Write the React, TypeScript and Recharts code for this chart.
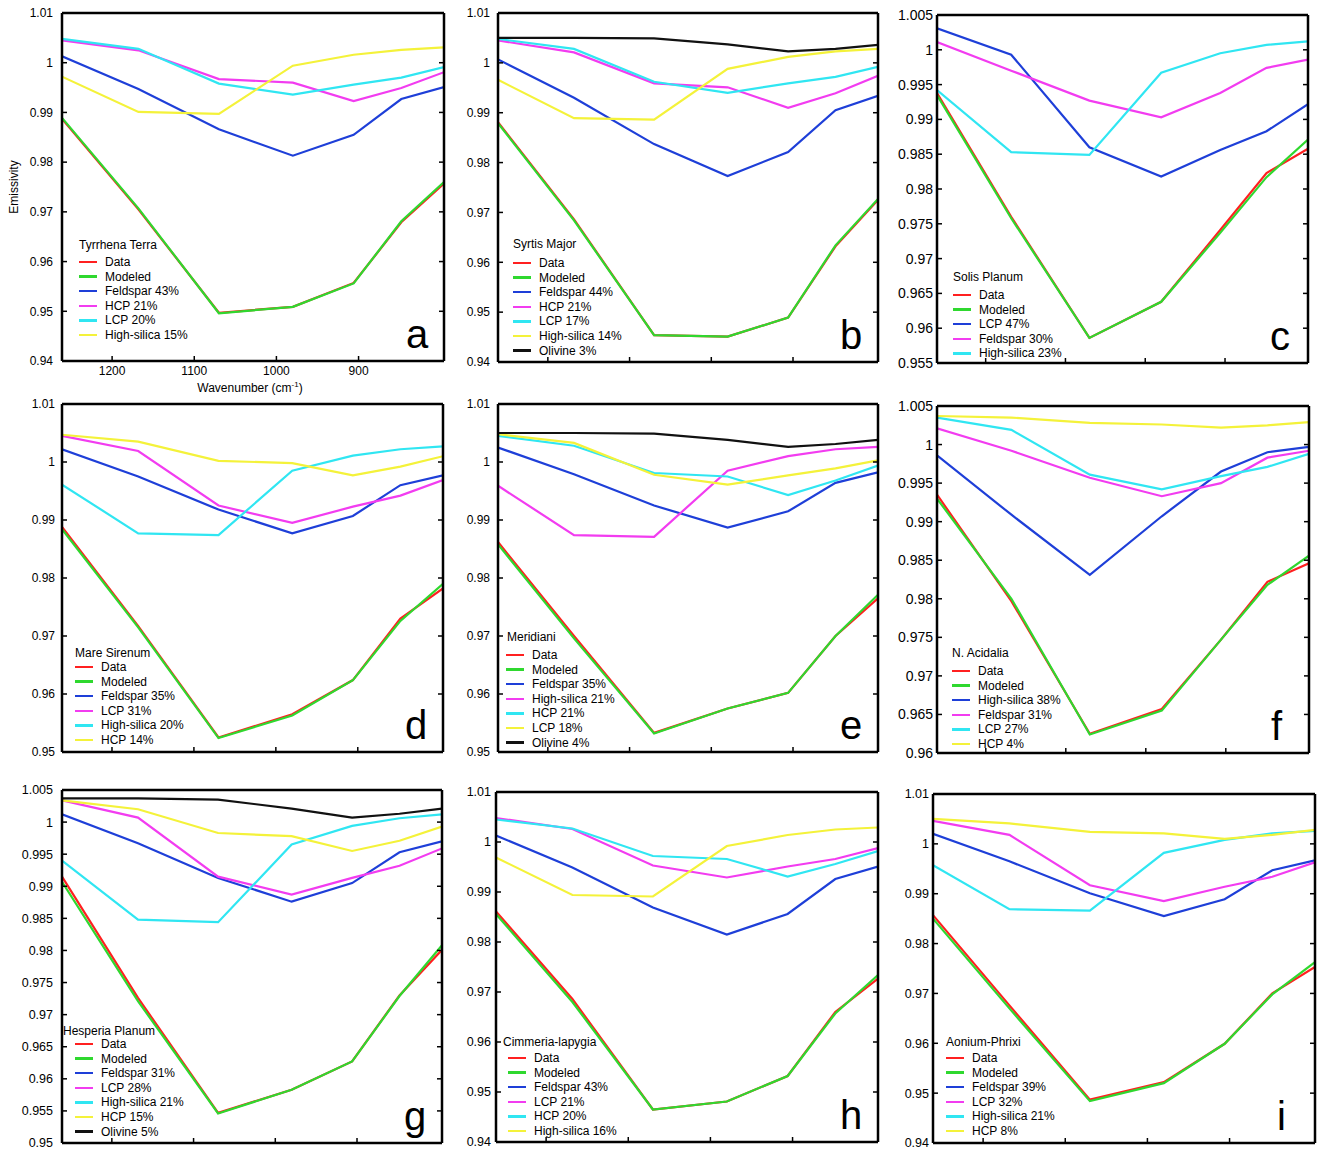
import { LineChart, Line, XAxis, YAxis } from "recharts";

// THEMIS band centres (cm-1), same for every panel
const wavenumbers = [1261, 1168, 1070, 980, 906, 848, 796];
const xTicks = [1200, 1100, 1000, 900];

const ticks94 = [0.94, 0.95, 0.96, 0.97, 0.98, 0.99, 1, 1.01];
const ticks95 = [0.95, 0.96, 0.97, 0.98, 0.99, 1, 1.01];
const ticksC = [0.955, 0.96, 0.965, 0.97, 0.975, 0.98, 0.985, 0.99, 0.995, 1, 1.005];
const ticksF = [0.96, 0.965, 0.97, 0.975, 0.98, 0.985, 0.99, 0.995, 1, 1.005];
const ticksG = [0.95, 0.955, 0.96, 0.965, 0.97, 0.975, 0.98, 0.985, 0.99, 0.995, 1, 1.005];

const colors = ["#ff2020", "#2fd82f", "#1e3fd8", "#f23cf0", "#30e6f2", "#f4f23a", "#111111"];

// a - Tyrrhena Terra
const ttData = [0.9887, 0.9705, 0.9497, 0.9509, 0.9557, 0.9679, 0.9757];
const ttModeled = [0.9889, 0.9707, 0.9496, 0.9509, 0.9556, 0.9681, 0.976];
const ttFeldspar = [1.0013, 0.9947, 0.9866, 0.9813, 0.9855, 0.9927, 0.9951];
const ttHcp = [1.0045, 1.0025, 0.9967, 0.996, 0.9923, 0.9949, 0.9981];
const ttLcp = [1.0048, 1.0028, 0.9958, 0.9936, 0.9956, 0.997, 0.9991];
const ttSilica = [0.9972, 0.9901, 0.9897, 0.9994, 1.0016, 1.0026, 1.0031];

// b - Syrtis Major
const smData = [0.9881, 0.9686, 0.9454, 0.9451, 0.9489, 0.9632, 0.9725];
const smModeled = [0.9879, 0.9684, 0.9454, 0.9451, 0.9489, 0.9634, 0.9727];
const smFeldspar = [1.0007, 0.993, 0.9837, 0.9773, 0.9821, 0.9905, 0.9934];
const smHcp = [1.0045, 1.0021, 0.9959, 0.9951, 0.991, 0.9939, 0.9974];
const smLcp = [1.0048, 1.0028, 0.9962, 0.994, 0.9959, 0.9972, 0.9992];
const smSilica = [0.9966, 0.9889, 0.9886, 0.9988, 1.0012, 1.0023, 1.0028];
const smOlivine = [1.005, 1.005, 1.0049, 1.0037, 1.0023, 1.0028, 1.0036];

// c - Solis Planum
const spData = [0.9938, 0.976, 0.9586, 0.9638, 0.9741, 0.9823, 0.9858];
const spModeled = [0.9935, 0.9758, 0.9586, 0.9638, 0.9737, 0.9817, 0.9871];
const spLcp = [1.0031, 0.9993, 0.986, 0.9818, 0.9856, 0.9883, 0.9922];
const spFeldspar = [1.0011, 0.997, 0.9927, 0.9903, 0.9938, 0.9974, 0.9986];
const spSilica = [0.9942, 0.9853, 0.9849, 0.9967, 0.9995, 1.0007, 1.0012];

// d - Mare Sirenum
const msData = [0.9888, 0.9717, 0.9525, 0.9565, 0.9624, 0.973, 0.9782];
const msModeled = [0.9884, 0.9715, 0.9524, 0.9563, 0.9624, 0.9726, 0.979];
const msFeldspar = [1.0022, 0.9975, 0.9918, 0.9877, 0.9907, 0.996, 0.9977];
const msLcp = [1.0045, 1.0019, 0.9925, 0.9895, 0.9923, 0.9942, 0.9969];
const msSilica = [0.9961, 0.9877, 0.9874, 0.9985, 1.0011, 1.0022, 1.0027];
const msHcp = [1.0047, 1.0035, 1.0002, 0.9998, 0.9977, 0.9992, 1.001];

// e - Meridiani
const meData = [0.9862, 0.97, 0.9533, 0.9575, 0.9602, 0.97, 0.9765];
const meModeled = [0.9858, 0.9696, 0.9532, 0.9575, 0.9602, 0.97, 0.9771];
const meFeldspar = [1.0025, 0.9979, 0.9925, 0.9887, 0.9915, 0.9964, 0.9982];
const meSilica = [0.9959, 0.9874, 0.9871, 0.9985, 1.001, 1.0022, 1.0026];
const meHcp = [1.0045, 1.0028, 0.9981, 0.9975, 0.9943, 0.9968, 0.9994];
const meLcp = [1.0048, 1.0033, 0.9978, 0.9961, 0.9977, 0.9989, 1.0003];
const meOlivine = [1.005, 1.005, 1.0049, 1.0038, 1.0026, 1.0031, 1.0038];

// f - N. Acidalia
const naData = [0.9935, 0.9797, 0.9625, 0.9657, 0.9747, 0.9822, 0.9846];
const naModeled = [0.993, 0.98, 0.9624, 0.9655, 0.9747, 0.9818, 0.9856];
const naSilica = [0.9986, 0.9909, 0.9831, 0.9907, 0.9965, 0.999, 0.9997];
const naFeldspar = [1.0021, 0.9992, 0.9957, 0.9933, 0.995, 0.9983, 0.9992];
const naLcp = [1.0035, 1.0019, 0.9961, 0.9942, 0.9959, 0.9971, 0.9988];
const naHcp = [1.0037, 1.0035, 1.0028, 1.0026, 1.0022, 1.0025, 1.0029];

// g - Hesperia Planum
const hpData = [0.9915, 0.9726, 0.9547, 0.9583, 0.9627, 0.973, 0.9801];
const hpModeled = [0.9907, 0.9721, 0.9546, 0.9583, 0.9627, 0.9729, 0.9808];
const hpFeldspar = [1.0012, 0.9967, 0.9913, 0.9876, 0.9905, 0.9953, 0.997];
const hpLcp = [1.0034, 1.0007, 0.9915, 0.9887, 0.9913, 0.9932, 0.9959];
const hpSilica = [0.994, 0.9848, 0.9844, 0.9965, 0.9994, 1.0006, 1.0012];
const hpHcp = [1.0034, 1.002, 0.9983, 0.9978, 0.9955, 0.9971, 0.9993];
const hpOlivine = [1.0037, 1.0037, 1.0035, 1.0021, 1.0007, 1.0013, 1.0021];

// h - Cimmeria-lapygia
const ciData = [0.9861, 0.9686, 0.9465, 0.9481, 0.9532, 0.966, 0.9727];
const ciModeled = [0.9856, 0.968, 0.9465, 0.9481, 0.9532, 0.9657, 0.9734];
const ciFeldspar = [1.0013, 0.9949, 0.9869, 0.9815, 0.9856, 0.9926, 0.9951];
const ciLcp = [1.0048, 1.0026, 0.9953, 0.9929, 0.9951, 0.9966, 0.9988];
const ciHcp = [1.0045, 1.0027, 0.9972, 0.9966, 0.9931, 0.9956, 0.9982];
const ciSilica = [0.9969, 0.9894, 0.9891, 0.9992, 1.0014, 1.0025, 1.0029];

// i - Aonium-Phrixi
const apData = [0.9857, 0.9676, 0.9487, 0.9522, 0.9599, 0.97, 0.9753];
const apModeled = [0.985, 0.967, 0.9484, 0.952, 0.9599, 0.9698, 0.9763];
const apFeldspar = [1.002, 0.9965, 0.9901, 0.9855, 0.9889, 0.9947, 0.9967];
const apLcp = [1.0046, 1.0018, 0.9917, 0.9885, 0.9914, 0.9934, 0.9963];
const apSilica = [0.9957, 0.9869, 0.9866, 0.9982, 1.0008, 1.0021, 1.0026];
const apHcp = [1.005, 1.0041, 1.0024, 1.0021, 1.001, 1.0018, 1.0028];

type Series = [string, number[]];
type PanelDef = {
  letter: string;
  title: string;
  series: Series[];
  domain: [number, number];
  ticks: number[];
  box: { l: number; t: number; w: number; h: number };
  leg: { tx: number; ty: number; sx: number; y0: number };
  tickFont: number;
  tickGap: number;
  showX?: boolean;
};

const panels: PanelDef[] = [
  {
    letter: "a", title: "Tyrrhena Terra", domain: [0.94, 1.01], ticks: ticks94, showX: true, tickFont: 12, tickGap: 14,
    series: [["Data", ttData], ["Modeled", ttModeled], ["Feldspar 43%", ttFeldspar], ["HCP 21%", ttHcp], ["LCP 20%", ttLcp], ["High-silica 15%", ttSilica]],
    box: { l: 62, t: 13, w: 382, h: 348 }, leg: { tx: 79, ty: 245, sx: 79, y0: 262 },
  },
  {
    letter: "b", title: "Syrtis Major", domain: [0.94, 1.01], ticks: ticks94, tickFont: 12, tickGap: 13,
    series: [["Data", smData], ["Modeled", smModeled], ["Feldspar 44%", smFeldspar], ["HCP 21%", smHcp], ["LCP 17%", smLcp], ["High-silica 14%", smSilica], ["Olivine 3%", smOlivine]],
    box: { l: 498, t: 13, w: 380, h: 349 }, leg: { tx: 513, ty: 244, sx: 513, y0: 263 },
  },
  {
    letter: "c", title: "Solis Planum", domain: [0.955, 1.005], ticks: ticksC, tickFont: 14, tickGap: 9,
    series: [["Data", spData], ["Modeled", spModeled], ["LCP 47%", spLcp], ["Feldspar 30%", spFeldspar], ["High-silica 23%", spSilica]],
    box: { l: 937, t: 15, w: 371, h: 348 }, leg: { tx: 953, ty: 277, sx: 953, y0: 295 },
  },
  {
    letter: "d", title: "Mare Sirenum", domain: [0.95, 1.01], ticks: ticks95, tickFont: 12, tickGap: 12,
    series: [["Data", msData], ["Modeled", msModeled], ["Feldspar 35%", msFeldspar], ["LCP 31%", msLcp], ["High-silica 20%", msSilica], ["HCP 14%", msHcp]],
    box: { l: 62, t: 404, w: 381, h: 348 }, leg: { tx: 75, ty: 653, sx: 75, y0: 667 },
  },
  {
    letter: "e", title: "Meridiani", domain: [0.95, 1.01], ticks: ticks95, tickFont: 12, tickGap: 13,
    series: [["Data", meData], ["Modeled", meModeled], ["Feldspar 35%", meFeldspar], ["High-silica 21%", meSilica], ["HCP 21%", meHcp], ["LCP 18%", meLcp], ["Olivine 4%", meOlivine]],
    box: { l: 498, t: 404, w: 380, h: 348 }, leg: { tx: 507, ty: 637, sx: 506, y0: 655 },
  },
  {
    letter: "f", title: "N. Acidalia", domain: [0.96, 1.005], ticks: ticksF, tickFont: 14, tickGap: 9,
    series: [["Data", naData], ["Modeled", naModeled], ["High-silica 38%", naSilica], ["Feldspar 31%", naFeldspar], ["LCP 27%", naLcp], ["HCP 4%", naHcp]],
    box: { l: 937, t: 406, w: 372, h: 347 }, leg: { tx: 952, ty: 653, sx: 952, y0: 671 },
  },
  {
    letter: "g", title: "Hesperia Planum", domain: [0.95, 1.005], ticks: ticksG, tickFont: 12.5, tickGap: 14,
    series: [["Data", hpData], ["Modeled", hpModeled], ["Feldspar 31%", hpFeldspar], ["LCP 28%", hpLcp], ["High-silica 21%", hpSilica], ["HCP 15%", hpHcp], ["Olivine 5%", hpOlivine]],
    box: { l: 62, t: 790, w: 380, h: 353 }, leg: { tx: 63, ty: 1031, sx: 75, y0: 1044 },
  },
  {
    letter: "h", title: "Cimmeria-lapygia", domain: [0.94, 1.01], ticks: ticks94, tickFont: 12.5, tickGap: 10,
    series: [["Data", ciData], ["Modeled", ciModeled], ["Feldspar 43%", ciFeldspar], ["LCP 21%", ciLcp], ["HCP 20%", ciHcp], ["High-silica 16%", ciSilica]],
    box: { l: 496, t: 792, w: 382, h: 350 }, leg: { tx: 503, ty: 1042, sx: 508, y0: 1058 },
  },
  {
    letter: "i", title: "Aonium-Phrixi", domain: [0.94, 1.01], ticks: ticks94, tickFont: 12.5, tickGap: 9,
    series: [["Data", apData], ["Modeled", apModeled], ["Feldspar 39%", apFeldspar], ["LCP 32%", apLcp], ["High-silica 21%", apSilica], ["HCP 8%", apHcp]],
    box: { l: 933, t: 794, w: 382, h: 349 }, leg: { tx: 946, ty: 1042, sx: 946, y0: 1058 },
  },
];

const FONT = "'Liberation Sans', Arial, Helvetica, sans-serif";
const axisLine = { stroke: "#000", strokeWidth: 2.5 };
const tickLine = { stroke: "#000", strokeWidth: 1.5 };
const blank = () => "";
const fmtY = (v: number) => String(Number(v.toFixed(3)));

const TOP = 8; // room above the frame for the top tick label

function Panel({ p }: { p: PanelDef }) {
  const { l, t, w, h } = p.box;
  const bottomH = p.showX ? 40 : 9;
  const rows = wavenumbers.map((wn, i) => {
    const r: Record<string, number> = { wn };
    p.series.forEach(([, vals], k) => {
      r["s" + k] = vals[i];
    });
    return r;
  });
  const legRow = 14.6;

  return (
    <>
      <div style={{ position: "absolute", left: l - 55, top: t - TOP - 1 }}>
        <LineChart
          width={55 + w + 1 + 5}
          height={TOP + 1 + h + bottomH}
          data={rows}
          margin={{ top: TOP, right: 5, bottom: 0, left: 0 }}
          style={{ fontFamily: FONT }}
        >
          <XAxis
            dataKey="wn"
            type="number"
            domain={[796, 1261]}
            reversed
            allowDataOverflow
            ticks={xTicks}
            interval={0}
            height={bottomH}
            axisLine={axisLine}
            tickLine={tickLine}
            tickSize={-5}
            tickMargin={10}
            tick={{ fill: "#000", fontSize: 12 }}
            tickFormatter={p.showX ? (v: number) => String(v) : blank}
          />
          <XAxis
            xAxisId="top"
            orientation="top"
            dataKey="wn"
            type="number"
            domain={[796, 1261]}
            reversed
            allowDataOverflow
            height={1}
            axisLine={axisLine}
            tickLine={false}
            tickFormatter={blank}
          />
          <YAxis
            type="number"
            domain={p.domain}
            allowDataOverflow
            ticks={p.ticks}
            interval={0}
            width={55}
            axisLine={axisLine}
            tickLine={tickLine}
            tickSize={-5}
            tickMargin={p.tickGap}
            tick={{ fill: "#000", fontSize: p.tickFont }}
            tickFormatter={fmtY}
          />
          <YAxis
            yAxisId="r"
            orientation="right"
            type="number"
            domain={p.domain}
            allowDataOverflow
            ticks={p.ticks}
            interval={0}
            width={1}
            axisLine={axisLine}
            tickLine={tickLine}
            tickSize={-5}
            tickFormatter={blank}
          />
          {p.series.map(([name], k) => (
            <Line
              key={name}
              dataKey={"s" + k}
              name={name}
              type="linear"
              stroke={colors[k]}
              strokeWidth={2.2}
              dot={false}
              activeDot={false}
              isAnimationActive={false}
            />
          ))}
        </LineChart>
      </div>

      {/* legend: title plus one swatch per series */}
      <div style={{ position: "absolute", left: p.leg.tx, top: p.leg.ty - 7, fontSize: 12, lineHeight: "14px", whiteSpace: "nowrap" }}>
        {p.title}
      </div>
      {p.series.map(([name], k) => {
        const cy = p.leg.y0 + k * legRow;
        return (
          <div key={name}>
            <div style={{ position: "absolute", left: p.leg.sx, top: cy - 1.25, width: 18, height: 2.5, background: colors[k] }} />
            <div style={{ position: "absolute", left: p.leg.sx + 26, top: cy - 7, fontSize: 12, lineHeight: "14px", whiteSpace: "nowrap" }}>
              {name}
            </div>
          </div>
        );
      })}

      <div style={{ position: "absolute", left: l + w - 38, top: t + h - 50, fontSize: 40, lineHeight: "46px" }}>
        {p.letter}
      </div>
    </>
  );
}

export default function App() {
  return (
    <div style={{ position: "absolute", left: 0, top: 0, width: 1318, height: 1151, background: "#fff", fontFamily: FONT, color: "#000" }}>
      {panels.map((p) => (
        <Panel key={p.letter} p={p} />
      ))}
      <div style={{ position: "absolute", left: 14 - 50, top: 187 - 7, width: 100, height: 14, lineHeight: "14px", fontSize: 12, textAlign: "center", transform: "rotate(-90deg)" }}>
        Emissivity
      </div>
      <div style={{ position: "absolute", left: 150, top: 378, width: 200, lineHeight: "14px", fontSize: 12, textAlign: "center" }}>
        Wavenumber (cm<sup style={{ fontSize: 8 }}>-1</sup>)
      </div>
    </div>
  );
}
